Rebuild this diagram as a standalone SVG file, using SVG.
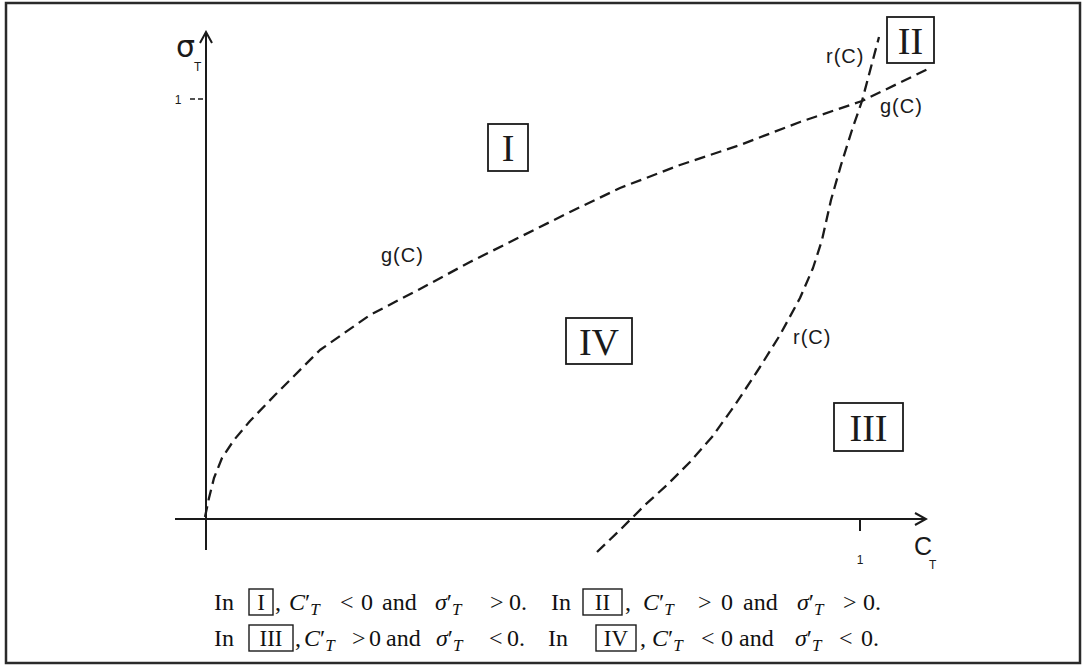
<svg xmlns="http://www.w3.org/2000/svg" width="1083" height="667" viewBox="0 0 1083 667">
<style>
.ax{stroke:#1a1a1a;stroke-width:2;fill:none}
.crv{stroke:#1a1a1a;stroke-width:2.3;fill:none;stroke-dasharray:11 6;stroke-linejoin:round}
.lbl{font-family:"Liberation Sans",Arial,sans-serif;font-size:20px;fill:#1a1a1a;letter-spacing:1px}
.box{fill:none;stroke:#1a1a1a;stroke-width:1.8}
.cbox{fill:none;stroke:#1a1a1a;stroke-width:1.4}
.rn{font-family:"Liberation Serif","Times New Roman",serif;font-size:38px;fill:#1a1a1a;text-anchor:middle}
.cap{font-family:"Liberation Serif","Times New Roman",serif;font-size:24px;fill:#111}
.crn{font-family:"Liberation Serif","Times New Roman",serif;font-size:23px;fill:#111;text-anchor:middle}
.it{font-style:italic}
.sub{font-style:italic;font-size:17px}
.tk{font-family:"Liberation Sans",Arial,sans-serif;font-size:12px;fill:#1a1a1a;text-anchor:middle}
</style>
<defs>
<marker id="arr" markerWidth="14" markerHeight="14" refX="12" refY="7" orient="auto" markerUnits="userSpaceOnUse">
<path d="M1,1 L12,7 L1,13" fill="none" stroke="#1a1a1a" stroke-width="2"/>
</marker>
</defs>
<rect x="6" y="3" width="1074" height="660" fill="#fff" stroke="#2a2a2a" stroke-width="2.5"/>
<g id="axes">
<line class="ax" x1="206" y1="550" x2="206" y2="32" marker-end="url(#arr)"/>
<line class="ax" x1="175" y1="519" x2="926" y2="519" marker-end="url(#arr)"/>
<line class="ax" x1="860" y1="519" x2="860" y2="531" stroke-width="1.5"/>
<line x1="190" y1="99" x2="206" y2="99" stroke="#1a1a1a" stroke-width="1.5" stroke-dasharray="5 3"/>
<text class="tk" x="178" y="104">1</text>
<text class="tk" x="860" y="564">1</text>
<text font-family="DejaVu Sans,sans-serif" font-size="30" fill="#1a1a1a" x="176" y="57">σ</text>
<text font-family="Liberation Sans,sans-serif" font-size="12" fill="#1a1a1a" x="194" y="71">T</text>
<text font-family="Liberation Sans,sans-serif" font-size="25" fill="#1a1a1a" x="914" y="555">C</text>
<text font-family="Liberation Sans,sans-serif" font-size="12" fill="#1a1a1a" x="929" y="569">T</text>
</g>
<g id="connectors">
<polyline id="g-curve" class="crv" points="205,517 209,498 214,478 222,458 234,440 250,421 275,395 320,350 370,315 420,289 470,262 520,237 570,212 620,188 680,165 740,145 800,122 862,101 928,69"/>
<polyline id="r-curve" class="crv" points="597,552 620,530 645,505 668,484 690,462 712,437 735,405 760,367 780,335 800,298 813,268 822,240 831,200 841,165 852,130 862,101 879,37"/>
</g>
<g id="labels">
<text class="lbl" x="826" y="63">r(C)</text>
<text class="lbl" x="880" y="113">g(C)</text>
<text class="lbl" x="381" y="262">g(C)</text>
<text class="lbl" x="793" y="344">r(C)</text>
</g>
<g id="region-I"><rect class="box" x="488" y="124" width="40" height="47"/><text class="rn" x="508" y="161">I</text></g>
<g id="region-II"><rect class="box" x="887" y="17" width="47" height="46"/><text class="rn" x="910.5" y="54">II</text></g>
<g id="region-III"><rect class="box" x="834" y="403" width="69" height="48"/><text class="rn" x="868.5" y="441">III</text></g>
<g id="region-IV"><rect class="box" x="566" y="318" width="66" height="46"/><text class="rn" x="599" y="355">IV</text></g>
<g id="caption">
<text class="cap" x="214" y="610">In</text>
<rect class="cbox" x="249" y="589" width="24" height="26"/><text class="crn" x="261" y="610">I</text>
<text class="cap" y="610"><tspan x="275">,</tspan><tspan x="289" class="it">C</tspan><tspan>′</tspan><tspan class="sub" dy="5">T</tspan><tspan x="340" dy="-5">&lt;</tspan><tspan x="361">0</tspan><tspan x="382">and</tspan><tspan x="435" class="it">σ</tspan><tspan>′</tspan><tspan class="sub" dy="5">T</tspan><tspan x="490" dy="-5">&gt;</tspan><tspan x="509">0.</tspan><tspan x="551">In</tspan></text>
<rect class="cbox" x="583" y="589" width="39" height="26"/><text class="crn" x="602.5" y="610">II</text>
<text class="cap" y="610"><tspan x="625">,</tspan><tspan x="643" class="it">C</tspan><tspan>′</tspan><tspan class="sub" dy="5">T</tspan><tspan x="698" dy="-5">&gt;</tspan><tspan x="721">0</tspan><tspan x="743">and</tspan><tspan x="797" class="it">σ</tspan><tspan>′</tspan><tspan class="sub" dy="5">T</tspan><tspan x="843" dy="-5">&gt;</tspan><tspan x="863">0.</tspan></text>
<text class="cap" x="214" y="646">In</text>
<rect class="cbox" x="249" y="625" width="44" height="26"/><text class="crn" x="271" y="646">III</text>
<text class="cap" y="646"><tspan x="295">,</tspan><tspan x="304" class="it">C</tspan><tspan>′</tspan><tspan class="sub" dy="5">T</tspan><tspan x="352" dy="-5">&gt;</tspan><tspan x="369">0</tspan><tspan x="386">and</tspan><tspan x="436" class="it">σ</tspan><tspan>′</tspan><tspan class="sub" dy="5">T</tspan><tspan x="489" dy="-5">&lt;</tspan><tspan x="507">0.</tspan><tspan x="548">In</tspan></text>
<rect class="cbox" x="596" y="625" width="40" height="26"/><text class="crn" x="616" y="646">IV</text>
<text class="cap" y="646"><tspan x="640">,</tspan><tspan x="652" class="it">C</tspan><tspan>′</tspan><tspan class="sub" dy="5">T</tspan><tspan x="701" dy="-5">&lt;</tspan><tspan x="721">0</tspan><tspan x="739">and</tspan><tspan x="795" class="it">σ</tspan><tspan>′</tspan><tspan class="sub" dy="5">T</tspan><tspan x="839" dy="-5">&lt;</tspan><tspan x="861">0.</tspan></text>
</g>
</svg>
